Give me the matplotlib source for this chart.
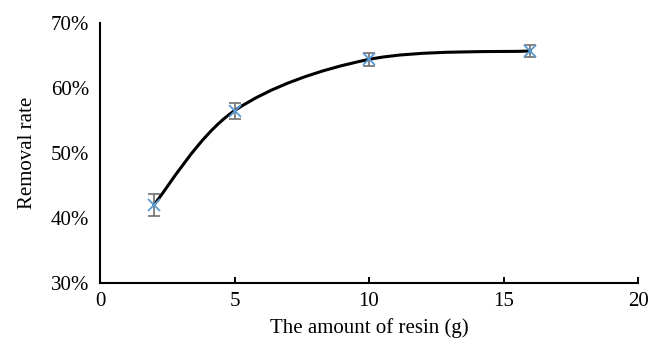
import matplotlib
matplotlib.use("Agg")
import matplotlib.pyplot as plt
import numpy as np
from matplotlib.path import Path
from matplotlib.patches import PathPatch

# data
resin_g = [2, 5, 10, 16]
removal_pct = [42.0, 56.5, 64.4, 65.7]
err_pct = [1.7, 1.25, 0.95, 0.95]
x_ticks = [0, 5, 10, 15, 20]
y_ticks = [30, 40, 50, 60, 70]

plt.rcParams["font.family"] = ["Liberation Serif", "DejaVu Serif"]

fig = plt.figure(figsize=(6.52, 3.39), dpi=100)
ax = fig.add_axes([0.1534, 0.166, 0.8252, 0.766])
ax.set_xlim(0, 20)
ax.set_ylim(30, 70)

# smoothed line (Excel-style cardinal bezier), built in display space
pts = ax.transData.transform(np.column_stack([resin_g, removal_pct]))
n = len(pts)
verts, codes = [pts[0]], [Path.MOVETO]
for i in range(n - 1):
    p0 = pts[i - 1] if i > 0 else pts[i]
    p1, p2 = pts[i], pts[i + 1]
    p3 = pts[i + 2] if i + 2 < n else pts[i + 1]
    c1 = p1 + (p2 - p0) / 6.0
    c2 = p2 - (p3 - p1) / 6.0
    verts += [c1, c2, p2]
    codes += [Path.CURVE4] * 3
verts = ax.transData.inverted().transform(np.array(verts))
ax.add_patch(PathPatch(Path(verts, codes), facecolor="none", edgecolor="black",
                       linewidth=2.2, capstyle="round", zorder=2))

ax.errorbar(resin_g, removal_pct, yerr=err_pct, fmt="none", ecolor="#6f6f6f",
            elinewidth=1.2, capsize=4, capthick=1.2, zorder=3)
ax.plot(resin_g, removal_pct, linestyle="none", marker="x", color="#5B9BD5",
        markersize=8, markeredgewidth=1.3, zorder=4)

ax.set_xticks(x_ticks)
ax.set_yticks(y_ticks)
ax.set_yticklabels([f"{v}%" for v in y_ticks])
ax.tick_params(axis="x", direction="in", length=4.5, width=1.4, labelsize=15, pad=7)
ax.tick_params(axis="y", length=0, labelsize=15, pad=8)
for s in ["top", "right"]:
    ax.spines[s].set_visible(False)
for s in ["left", "bottom"]:
    ax.spines[s].set_linewidth(1.5)
ax.set_xlabel("The amount of resin (g)", fontsize=15, labelpad=5)
ax.set_ylabel("Removal rate", fontsize=15, labelpad=10)

fig.savefig("out.png", dpi=100)
